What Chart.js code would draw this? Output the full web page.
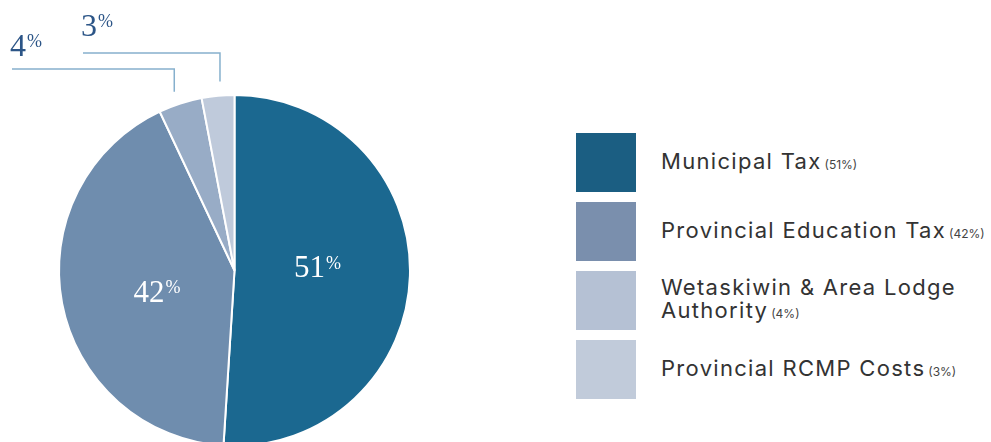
<!DOCTYPE html>
<html><head><meta charset="utf-8">
<script src="https://cdn.jsdelivr.net/npm/chart.js@4"></script>
<style>
html,body{margin:0;padding:0;width:991px;height:442px;overflow:hidden;background:#fff;}
#c{position:absolute;left:0;top:0;}
#legend{position:absolute;left:576px;top:133px;width:415px;}
.item{position:absolute;left:0;display:flex;align-items:center;}
.box{width:60px;height:59px;flex:none;}
.lab{margin-left:25px;font-family:Inter,'Open Sans',sans-serif;font-size:22px;letter-spacing:1.3px;color:#333;line-height:23px;white-space:nowrap;}
.pct{font-size:12px;letter-spacing:0;color:#444;margin-left:3px;}
</style></head>
<body>
<canvas id="c" width="480" height="560"></canvas>
<div id="legend"></div>
<script>
// ---- data ----
const categories = ['Municipal Tax', 'Provincial Education Tax', 'Wetaskiwin & Area Lodge Authority', 'Provincial RCMP Costs'];
const legendLines = [['Municipal Tax'], ['Provincial Education Tax'], ['Wetaskiwin & Area Lodge', 'Authority'], ['Provincial RCMP Costs']];
const values = [51, 42, 4, 3];
const sliceColors = ['#1b6890', '#6f8dae', '#98acc6', '#bfcadb'];
const legendColors = ['#1b5e82', '#7a8fad', '#b5c1d4', '#c1cbda'];

// ---- legend (HTML) ----
const legendEl = document.getElementById('legend');
categories.forEach((cat, i) => {
  const item = document.createElement('div');
  item.className = 'item';
  item.style.top = (i * 69) + 'px';
  const box = document.createElement('div');
  box.className = 'box';
  box.style.background = legendColors[i];
  const lab = document.createElement('div');
  lab.className = 'lab';
  const lines = legendLines[i];
  lab.innerHTML = lines.map((l, j) => {
    const t = l.replace(/&/g, '&amp;');
    return j === lines.length - 1 ? t + '<span class="pct">(' + values[i] + '%)</span>' : t;
  }).join('<br>');
  item.appendChild(box);
  item.appendChild(lab);
  legendEl.appendChild(item);
});

// ---- label plugin ----
const SERIF = '"Liberation Serif", "DejaVu Serif", serif';
function drawPct(ctx, num, x, baseline, fs, ps, color, align) {
  ctx.save();
  ctx.fillStyle = color;
  ctx.textBaseline = 'alphabetic';
  ctx.font = fs + 'px ' + SERIF;
  const w1 = ctx.measureText(num).width;
  ctx.font = ps + 'px ' + SERIF;
  const w2 = ctx.measureText('%').width;
  let left = x;
  if (align === 'center') left = x - (w1 + w2) / 2;
  ctx.font = fs + 'px ' + SERIF;
  ctx.fillText(num, left, baseline);
  const digitTop = baseline - 0.68 * fs;
  ctx.font = ps + 'px ' + SERIF;
  ctx.fillText('%', left + w1 + 1, digitTop + 0.7 * ps);
  ctx.restore();
}

const pieLabels = {
  id: 'pieLabels',
  afterDatasetsDraw(chart, args, opts) {
    const ctx = chart.ctx;
    const meta = chart.getDatasetMeta(0);
    meta.data.forEach((arc, i) => {
      const p = arc.getProps(['x', 'y', 'startAngle', 'endAngle', 'outerRadius'], true);
      const mid = (p.startAngle + p.endAngle) / 2;
      const v = String(chart.data.datasets[0].data[i]);
      if (values[i] >= 10) {
        const r = p.outerRadius * 0.47;
        const nudge = opts.nudges[i] || [0, 0];
        const cx = p.x + Math.cos(mid) * r + nudge[0];
        const cy = p.y + Math.sin(mid) * r + nudge[1];
        drawPct(ctx, v, cx, cy + 11, 31, 18, '#ffffff', 'center');
      } else {
        const k = i - 2;
        const lx = p.x + Math.cos(mid) * p.outerRadius + opts.leaderShift[k];
        const edgeY = p.y - Math.sqrt(Math.max(p.outerRadius * p.outerRadius - (lx - p.x) * (lx - p.x), 0));
        const bottom = edgeY - 14;
        const elbowY = p.y - p.outerRadius - opts.elbow[k];
        const startX = opts.startX[k];
        ctx.save();
        ctx.strokeStyle = '#86b0cd';
        ctx.lineWidth = 1.5;
        ctx.beginPath();
        ctx.moveTo(startX, elbowY);
        ctx.lineTo(lx, elbowY);
        ctx.lineTo(lx, bottom);
        ctx.stroke();
        ctx.restore();
        drawPct(ctx, v, startX - 2, elbowY - opts.textGap[k], 32, 18, '#2c5587', 'left');
      }
    });
  }
};

new Chart(document.getElementById('c'), {
  type: 'pie',
  data: {
    labels: categories,
    datasets: [{
      data: values,
      backgroundColor: sliceColors,
      borderColor: '#ffffff',
      borderWidth: 2
    }]
  },
  options: {
    responsive: false,
    animation: false,
    layout: { padding: { left: 58, top: 94, right: 69, bottom: 113 } },
    plugins: {
      legend: { display: false },
      tooltip: { enabled: false },
      pieLabels: {
        nudges: [[0, -7], [3, 5]],
        leaderShift: [-6, 2],
        elbow: [26, 42],
        startX: [12, 83],
        textGap: [13, 17]
      }
    }
  },
  plugins: [pieLabels]
});
</script>
</body></html>
